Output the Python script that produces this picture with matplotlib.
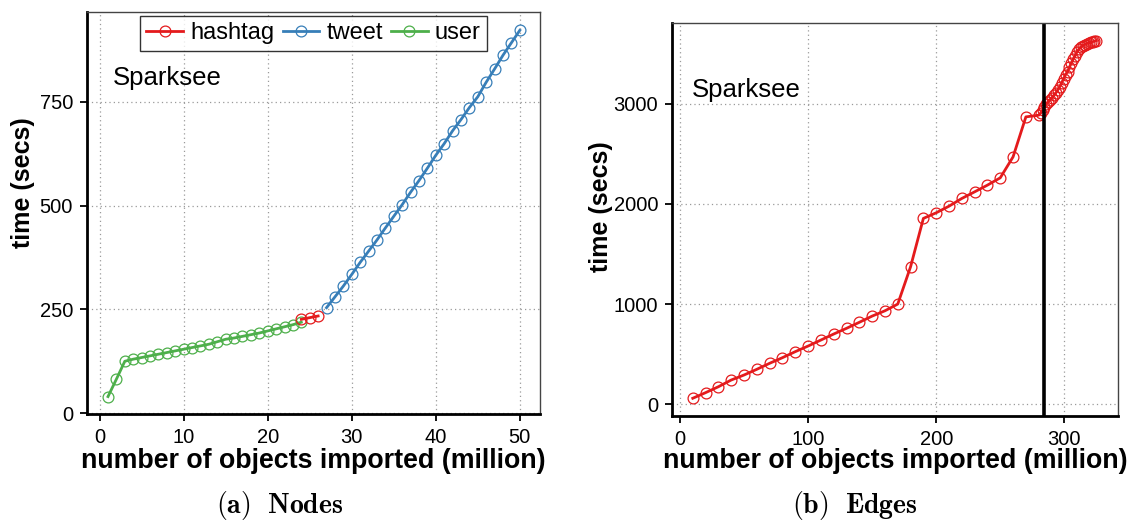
import matplotlib
matplotlib.use("Agg")
import matplotlib.pyplot as plt

plt.rcParams['font.family'] = ['Liberation Sans', 'DejaVu Sans']
plt.rcParams['mathtext.fontset'] = 'cm'

# ---- Nodes import (left panel) ----
user_x = list(range(1, 25))
user_y = [40, 82, 125, 130, 134, 138, 142, 146, 150, 154, 158, 162,
          166, 172, 178, 181, 185, 189, 193, 198, 203, 208, 213, 219]
hashtag_x = [24, 25, 26]
hashtag_y = [226, 230, 234]
tweet_x = list(range(27, 51))
tweet_y = [254, 280, 306, 334, 363, 390, 417, 446, 474, 502, 532, 560,
           590, 621, 649, 680, 707, 736, 762, 797, 829, 862, 892, 922]

# ---- Edges import (right panel) ----
edge_x = [10, 20, 30, 40, 50, 60, 70, 80, 90, 100, 110, 120, 130, 140,
          150, 160, 170, 180, 190, 200, 210, 220, 230, 240, 250, 260,
          270, 280, 281.5, 283, 284.5, 286, 287.5, 289, 290.5, 292,
          293.5, 295, 296.5, 298, 299.5, 301, 302.5, 304, 305.5, 307,
          308.5, 310, 311.5, 313, 314.5, 316, 317.5, 319, 320.5, 322,
          323.5, 325]
edge_y = [60, 116, 175, 242, 292, 349, 409, 465, 525, 581, 641, 701,
          758, 818, 880, 933, 1000, 1372, 1855, 1911, 1977, 2054, 2120,
          2187, 2260, 2469, 2868, 2885, 2905, 2935, 2965, 3000, 3020,
          3040, 3060, 3085, 3110, 3140, 3170, 3210, 3250, 3290, 3320,
          3365, 3405, 3445, 3480, 3520, 3545, 3565, 3580, 3590, 3600,
          3607, 3613, 3618, 3624, 3630]
edge_marker_line = 284

nodes_xticks = [0, 10, 20, 30, 40, 50]
nodes_yticks = [0, 250, 500, 750]
edges_xticks = [0, 100, 200, 300]
edges_yticks = [0, 1000, 2000, 3000]

RED = '#E41A1C'
BLUE = '#377EB8'
GREEN = '#4DAF4A'

W, H = 1131, 522
fig = plt.figure(figsize=(W / 100, H / 100), dpi=100)


def px_axes(x0, y0, x1, y1):
    return fig.add_axes([x0 / W, 1 - y1 / H, (x1 - x0) / W, (y1 - y0) / H])


def style_axes(ax, xticks, yticks):
    ax.set_xticks(xticks)
    ax.set_yticks(yticks)
    ax.grid(True, color='#9a9a9a', linestyle=(0, (1, 2.5)), linewidth=0.9)
    ax.set_axisbelow(True)
    for side in ('left', 'bottom'):
        ax.spines[side].set_linewidth(2.0)
        ax.spines[side].set_color('black')
    for side in ('top', 'right'):
        ax.spines[side].set_linewidth(1.0)
        ax.spines[side].set_color('#444444')
    ax.tick_params(axis='both', direction='out', length=5, width=1.3,
                   labelsize=14.5, color='black')
    ax.tick_params(axis='y', pad=5)
    ax.tick_params(axis='x', pad=5)


line_kw = dict(linewidth=2.0, marker='o', markersize=7.8,
               markerfacecolor='none', markeredgewidth=0.9)

# Left panel: nodes
ax1 = px_axes(87, 12, 540, 414)
ax1.plot(user_x, user_y, color=GREEN, label='user', **line_kw)
ax1.plot(tweet_x, tweet_y, color=BLUE, label='tweet', **line_kw)
ax1.plot(hashtag_x, hashtag_y, color=RED, label='hashtag', **line_kw)
ax1.set_xlim(-1.5, 52.4)
ax1.set_ylim(-2, 966)
style_axes(ax1, nodes_xticks, nodes_yticks)
handles, labels = ax1.get_legend_handles_labels()
order = [labels.index(n) for n in ('hashtag', 'tweet', 'user')]
leg = ax1.legend([handles[i] for i in order], [labels[i] for i in order],
                 ncol=3, loc='upper center', bbox_to_anchor=(0.5, 1.0),
                 fontsize=17, frameon=True, fancybox=False,
                 edgecolor='black', handlelength=1.55, handletextpad=0.3,
                 columnspacing=0.35, borderpad=0.28, borderaxespad=0.15)
leg.get_frame().set_linewidth(1.0)
ax1.text(0.057, 0.835, 'Sparksee', transform=ax1.transAxes, fontsize=18.5,
         ha='left', va='center')

# Right panel: edges
ax2 = px_axes(672, 23, 1118, 416)
ax2.plot(edge_x, edge_y, color=RED, **line_kw)
ax2.axvline(edge_marker_line, color='black', linewidth=2.6)
ax2.set_xlim(-6.2, 341.9)
ax2.set_ylim(-117, 3805)
style_axes(ax2, edges_xticks, edges_yticks)
ax2.text(0.045, 0.83, 'Sparksee', transform=ax2.transAxes, fontsize=18.5,
         ha='left', va='center')

# Axis titles and captions
ylab_kw = dict(fontsize=18, fontweight='bold', ha='center', va='center')
xlab_kw = dict(fontsize=19.3, fontweight='bold', ha='center', va='center')
fig.text(23 / W, 1 - 183 / H, 'time (secs)', rotation=90, **ylab_kw)
fig.text(601 / W, 1 - 207 / H, 'time (secs)', rotation=90, **ylab_kw)
fig.text(313.5 / W, 1 - 461 / H, 'number of objects imported (million)', **xlab_kw)
fig.text(895 / W, 1 - 461 / H, 'number of objects imported (million)', **xlab_kw)
fig.text(280 / W, 1 - 506 / H, r'$\mathbf{(a)\ \ Nodes}$', fontsize=20,
         ha='center', va='center')
fig.text(855 / W, 1 - 506 / H, r'$\mathbf{(b)\ \ Edges}$', fontsize=20,
         ha='center', va='center')

fig.savefig('out.png', dpi=100)
